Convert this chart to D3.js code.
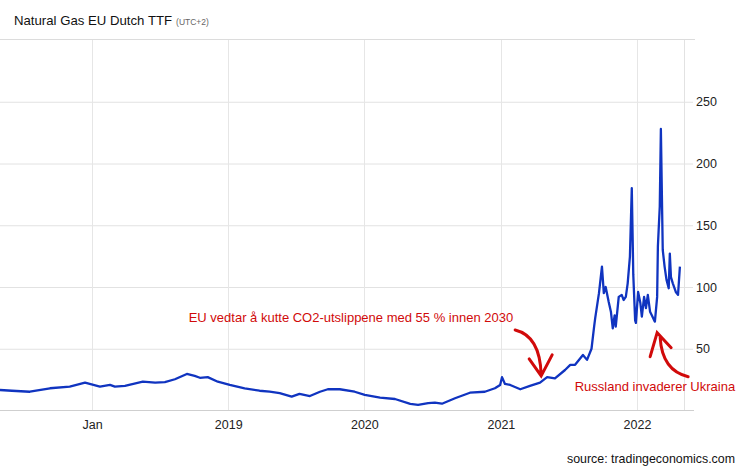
<!DOCTYPE html>
<html>
<head>
<meta charset="utf-8">
<script src="https://cdn.jsdelivr.net/npm/d3@7"></script>
<style>
    body { margin: 0; background: #fff; }
    text { font-family: "Liberation Sans", Arial, Helvetica, sans-serif; }
</style>
</head>
<body>
<div id="chart"></div>
<script>

// TTF front month, EUR/MWh
var dates = [
    "2017-04-29", "2017-05-31", "2017-07-18", "2017-09-10", "2017-11-02", "2017-12-13",
    "2018-01-22", "2018-02-18", "2018-03-03", "2018-03-30", "2018-05-17", "2018-06-19",
    "2018-07-15", "2018-08-11", "2018-09-12", "2018-10-03", "2018-10-17", "2018-11-07",
    "2018-12-04", "2019-01-05", "2019-02-14", "2019-03-26", "2019-04-22", "2019-05-19",
    "2019-06-20", "2019-07-11", "2019-08-08", "2019-09-04", "2019-09-25", "2019-10-27",
    "2019-12-06", "2020-01-02", "2020-02-12", "2020-03-23", "2020-05-03", "2020-05-24",
    "2020-06-20", "2020-07-08", "2020-07-27", "2020-08-31", "2020-10-10", "2020-11-19",
    "2020-12-16", "2020-12-30", "2021-01-04", "2021-01-12", "2021-01-26", "2021-02-22",
    "2021-03-20", "2021-04-16", "2021-05-05", "2021-05-26", "2021-06-22", "2021-07-06",
    "2021-07-19", "2021-08-09", "2021-08-20", "2021-09-01", "2021-09-08", "2021-09-11",
    "2021-09-21", "2021-09-29", "2021-10-04", "2021-10-09", "2021-10-17", "2021-10-23",
    "2021-10-28", "2021-11-02", "2021-11-05", "2021-11-13", "2021-11-21", "2021-11-26",
    "2021-12-02", "2021-12-07", "2021-12-13", "2021-12-18", "2021-12-22", "2021-12-27",
    "2021-12-29", "2022-01-04", "2022-01-10", "2022-01-14", "2022-01-20", "2022-01-25",
    "2022-01-30", "2022-02-05", "2022-02-10", "2022-02-16", "2022-02-18", "2022-02-24",
    "2022-02-26", "2022-02-28", "2022-03-03", "2022-03-06", "2022-03-11", "2022-03-16",
    "2022-03-21", "2022-03-27", "2022-03-30", "2022-04-02", "2022-04-07", "2022-04-15",
    "2022-04-21", "2022-04-26"
];

var prices = [
    16.6, 16, 15.2, 18, 19.3, 22.5,
    19.3, 20.7, 19.3, 20, 23.3, 22.5,
    23, 25.3, 29.6, 28, 26.5, 27,
    23.3, 20.7, 18, 16, 15.2, 14,
    11.2, 13.4, 11.7, 15.2, 17.2, 17.2,
    15.2, 12.6, 10.4, 9.3, 5.3, 4.5,
    6, 6.3, 5.5, 9.9, 14.4, 15.2,
    18, 20.7, 27, 21.5, 20.7, 17.2,
    19.9, 22.5, 27, 26, 32.8, 36.9,
    37, 45, 41, 50, 68, 75,
    95, 116.5, 95, 100, 88, 80,
    66.5, 77, 68, 92, 93.6, 89.5,
    92, 103, 124.6, 180, 110, 73,
    71, 96, 87, 76, 92, 83,
    93.6, 80, 77, 73, 72, 92,
    133, 146, 165, 228, 130, 116.5,
    106, 99, 127, 108, 103, 96,
    93.6, 116.5
];

var yTicks = [50, 100, 150, 200, 250];
var xTickDates = ["2018-01-01", "2019-01-01", "2020-01-01", "2021-01-01", "2022-01-01"];
var xTickLabels = ["Jan", "2019", "2020", "2021", "2022"];

var noteTexts = ["EU vedtar å kutte CO2-utslippene med 55 % innen 2030", "Russland invaderer Ukraina"];
var noteDates = ["2021-04-19", "2022-02-24"];
var noteValues = [28, 63];

var parseDate = d3.timeParse("%Y-%m-%d");
var series = dates.map(function (d, i) {
    return {date: parseDate(d), value: prices[i]};
});

var width = 746, height = 468;
var plotLeft = 0, plotRight = 684, plotTop = 40, plotBottom = 410.5;

var svg = d3.select("#chart").append("svg")
    .attr("width", width).attr("height", height)
    .style("display", "block");

var x = d3.scaleTime()
    .domain([parseDate("2017-04-29"), parseDate("2022-05-07")])
    .range([plotLeft, plotRight]);

var y = d3.scaleLinear()
    .domain([0, 300])
    .range([plotBottom, plotTop]);

// title
var title = svg.append("text").attr("x", 14).attr("y", 25)
    .attr("font-size", 13.2).attr("fill", "#111");
title.append("tspan").text("Natural Gas EU Dutch TTF");
title.append("tspan").attr("font-size", 8.5).attr("fill", "#666").attr("dx", 4).text("(UTC+2)");

// top border under the title
svg.append("line")
    .attr("x1", 0).attr("x2", 695)
    .attr("y1", 39.5).attr("y2", 39.5)
    .attr("stroke", "#dcdcdc").attr("stroke-width", 1);

// horizontal grid + right axis
var yAxis = d3.axisRight(y)
    .tickValues(yTicks)
    .tickSize(-(plotRight - plotLeft))
    .tickSizeOuter(0)
    .tickPadding(12)
    .tickFormat(d3.format("d"));

var gy = svg.append("g")
    .attr("transform", "translate(" + (plotRight + 9) + ",0)")
    .call(yAxis);
gy.select(".domain").remove();
gy.selectAll(".tick line").attr("stroke", "#e2e2e2");
gy.selectAll(".tick line").attr("x1", 0).attr("x2", -(plotRight + 9 - plotLeft));
gy.selectAll(".tick text")
    .attr("x", 3).attr("font-size", 12.5).attr("fill", "#222")
    .attr("font-family", "Liberation Sans, Arial, sans-serif");

// vertical grid
svg.append("g").selectAll("line")
    .data(xTickDates)
    .enter().append("line")
    .attr("x1", function (d) { return Math.round(x(parseDate(d))) + 0.5; })
    .attr("x2", function (d) { return Math.round(x(parseDate(d))) + 0.5; })
    .attr("y1", plotTop).attr("y2", plotBottom)
    .attr("stroke", "#e6e6e6");

// right border
svg.append("line")
    .attr("x1", plotRight + 0.5).attr("x2", plotRight + 0.5)
    .attr("y1", plotTop).attr("y2", plotBottom)
    .attr("stroke", "#e2e2e2");

// bottom axis
var xAxis = d3.axisBottom(x)
    .tickValues(xTickDates.map(parseDate))
    .tickSize(0)
    .tickPadding(10)
    .tickFormat(function (d, i) { return xTickLabels[i]; });

var gx = svg.append("g")
    .attr("transform", "translate(0," + plotBottom + ")")
    .call(xAxis);
gx.select(".domain").remove();
gx.selectAll(".tick text").attr("font-size", 12.5).attr("fill", "#222")
    .attr("font-family", "Liberation Sans, Arial, sans-serif");

svg.append("line")
    .attr("x1", 0).attr("x2", 694)
    .attr("y1", plotBottom).attr("y2", plotBottom)
    .attr("stroke", "#cfcfcf").attr("stroke-width", 1.2);

// price line
svg.append("clipPath").attr("id", "plotClip")
    .append("rect").attr("x", plotLeft).attr("y", plotTop)
    .attr("width", plotRight - plotLeft).attr("height", plotBottom - plotTop);

var line = d3.line()
    .x(function (d) { return x(d.date); })
    .y(function (d) { return y(d.value); });

svg.append("path")
    .datum(series)
    .attr("clip-path", "url(#plotClip)")
    .attr("d", line)
    .attr("fill", "none")
    .attr("stroke", "#1034c0")
    .attr("stroke-width", 2.3)
    .attr("stroke-linejoin", "round");

// annotations
var red = "#d10a0a";
var tip1 = [x(parseDate(noteDates[0])), y(noteValues[0])];
var tip2 = [x(parseDate(noteDates[1])), y(noteValues[1])];

svg.append("text")
    .attr("x", tip1[0] - 28).attr("y", tip1[1] - 54)
    .attr("text-anchor", "end").attr("font-size", 13).attr("fill", red)
    .text(noteTexts[0]);

svg.append("text")
    .attr("x", tip2[0] + 78).attr("y", tip2[1] + 58)
    .attr("text-anchor", "end").attr("font-size", 13).attr("fill", red)
    .text(noteTexts[1]);

var arrows = svg.append("g")
    .attr("fill", "none").attr("stroke", red)
    .attr("stroke-width", 3).attr("stroke-linecap", "round");

var p1 = d3.path();
p1.moveTo(tip1[0] - 26, tip1[1] - 46);
p1.quadraticCurveTo(tip1[0] - 1, tip1[1] - 40, tip1[0], tip1[1] - 1);
p1.moveTo(tip1[0] - 12, tip1[1] - 17);
p1.lineTo(tip1[0], tip1[1]);
p1.lineTo(tip1[0] + 11, tip1[1] - 21);
arrows.append("path").attr("d", p1.toString());

var p2 = d3.path();
p2.moveTo(tip2[0] + 31, tip2[1] + 44);
p2.quadraticCurveTo(tip2[0] + 5, tip2[1] + 38, tip2[0] + 3, tip2[1] + 5);
p2.moveTo(tip2[0] - 7, tip2[1] + 24);
p2.lineTo(tip2[0], tip2[1]);
p2.lineTo(tip2[0] + 14, tip2[1] + 15);
arrows.append("path").attr("d", p2.toString());

// source
svg.append("text")
    .attr("x", 735).attr("y", 463)
    .attr("text-anchor", "end").attr("font-size", 12.4).attr("fill", "#111")
    .text("source: tradingeconomics.com");

</script>
</body>
</html>
